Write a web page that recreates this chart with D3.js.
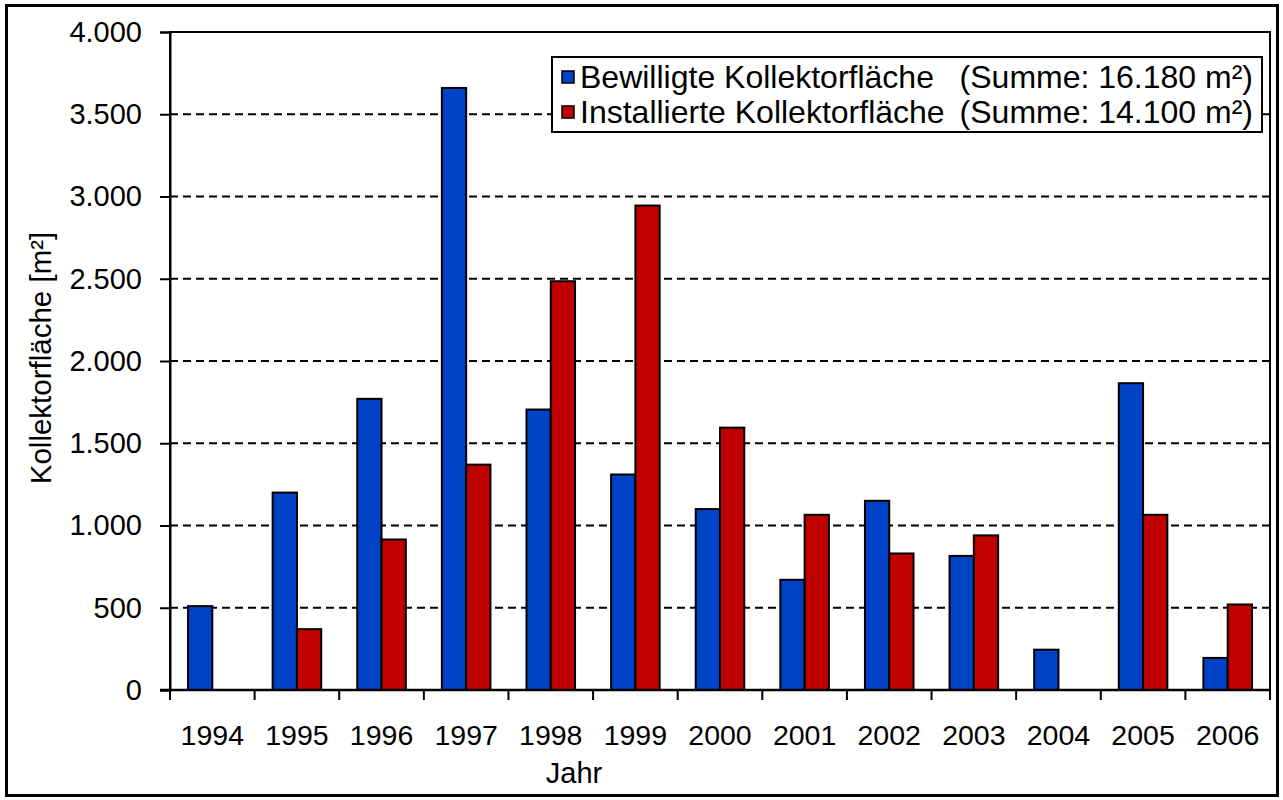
<!DOCTYPE html>
<html>
<head>
<meta charset="utf-8">
<script src="https://cdn.jsdelivr.net/npm/d3@7"></script>
<style>
  html, body { margin: 0; padding: 0; background: #fff; }
  svg { display: block; }
</style>
</head>
<body>
<div id="chart"></div>
<script>
// Daten
const years = ['1994','1995','1996','1997','1998','1999','2000','2001','2002','2003','2004','2005','2006'];
const bewilligt = [510, 1200, 1770, 3660, 1705, 1310, 1100, 670, 1150, 815, 245, 1865, 195];
const installiert = [0, 370, 915, 1370, 2485, 2945, 1595, 1065, 830, 940, 0, 1065, 520];
const seriesNames = ['Bewilligte Kollektorfläche', 'Installierte Kollektorfläche'];
const seriesSums = ['(Summe: 16.180 m²)', '(Summe: 14.100 m²)'];
const yTicks = [0, 500, 1000, 1500, 2000, 2500, 3000, 3500, 4000];

const W = 1283, H = 800;
const M = { left: 170, right: 1270, top: 32, bottom: 690 };
const COL = { blue: '#0042c6', red: '#c00000', ink: '#000' };
const FONT = '"Liberation Sans", Arial, sans-serif';

const de = d3.formatLocale({ decimal: ',', thousands: '.', grouping: [3], currency: ['', '€'] });
const fmt = de.format(',');

const svg = d3.select('#chart').append('svg')
  .attr('width', W).attr('height', H)
  .attr('viewBox', `0 0 ${W} ${H}`);

// Rahmen um das ganze Diagramm
svg.append('rect')
  .attr('x', 6.5).attr('y', 5.5)
  .attr('width', 1271).attr('height', 790)
  .attr('fill', '#fff').attr('stroke', COL.ink).attr('stroke-width', 3);

const x0 = d3.scaleBand().domain(years).range([M.left, M.right])
  .paddingInner(0.426).paddingOuter(0.213);
const x1 = d3.scaleBand().domain([0, 1]).range([0, x0.bandwidth()]);
const y = d3.scaleLinear().domain([0, 4000]).range([M.bottom, M.top]);

// Gitterlinien gestrichelt
svg.append('g').selectAll('line')
  .data(yTicks.filter(v => v > 0 && v < 4000))
  .join('line')
  .attr('x1', M.left).attr('x2', M.right)
  .attr('y1', d => y(d)).attr('y2', d => y(d))
  .attr('stroke', COL.ink).attr('stroke-width', 2)
  .attr('stroke-dasharray', '8,5');

// Balken
const rows = years.map((yr, i) => ({ yr, vals: [bewilligt[i], installiert[i]] }));
const grp = svg.append('g').selectAll('g').data(rows).join('g')
  .attr('transform', d => `translate(${x0(d.yr)},0)`);
grp.selectAll('rect')
  .data(d => d.vals.map((v, k) => ({ v, k })).filter(e => e.v > 0))
  .join('rect')
  .attr('x', d => x1(d.k))
  .attr('width', x1.bandwidth())
  .attr('y', d => y(d.v))
  .attr('height', d => y(0) - y(d.v))
  .attr('fill', d => d.k === 0 ? COL.blue : COL.red)
  .attr('stroke', COL.ink).attr('stroke-width', 2);

// Plotrahmen
svg.append('rect')
  .attr('x', M.left).attr('y', M.top)
  .attr('width', M.right - M.left).attr('height', M.bottom - M.top)
  .attr('fill', 'none').attr('stroke', COL.ink).attr('stroke-width', 2);

// Y-Achse
const yAxis = svg.append('g')
  .attr('transform', `translate(${M.left},0)`)
  .call(d3.axisLeft(y).tickValues(yTicks).tickFormat(fmt).tickSize(10).tickPadding(18));
yAxis.select('.domain').attr('stroke', COL.ink).attr('stroke-width', 2);
yAxis.selectAll('.tick line').attr('stroke', COL.ink).attr('stroke-width', 2);
yAxis.selectAll('.tick text')
  .attr('font-family', FONT).attr('font-size', 29).attr('fill', COL.ink);

// X-Achse: Striche an den Kategoriegrenzen
const step = x0.step();
const bounds = d3.range(years.length + 1).map(i => M.left + i * step);
svg.append('g').selectAll('line').data(bounds).join('line')
  .attr('x1', d => d).attr('x2', d => d)
  .attr('y1', M.bottom).attr('y2', M.bottom + 10)
  .attr('stroke', COL.ink).attr('stroke-width', 2);
svg.append('line')
  .attr('x1', M.left - 10).attr('x2', M.right)
  .attr('y1', M.bottom).attr('y2', M.bottom)
  .attr('stroke', COL.ink).attr('stroke-width', 2.5);

svg.append('g').selectAll('text').data(years).join('text')
  .attr('x', d => x0(d) + x0.bandwidth() / 2)
  .attr('y', 745)
  .attr('text-anchor', 'middle')
  .attr('font-family', FONT).attr('font-size', 28.5).attr('fill', COL.ink)
  .text(d => d);

// Achsentitel
svg.append('text')
  .attr('x', 574).attr('y', 783)
  .attr('text-anchor', 'middle')
  .attr('font-family', FONT).attr('font-size', 29).attr('fill', COL.ink)
  .text('Jahr');
svg.append('text')
  .attr('transform', 'translate(51,358) rotate(-90)')
  .attr('text-anchor', 'middle')
  .attr('font-family', FONT).attr('font-size', 29.5).attr('fill', COL.ink)
  .text('Kollektorfläche [m²]');

// Legende
const leg = svg.append('g');
leg.append('rect')
  .attr('x', 552).attr('y', 57).attr('width', 710).attr('height', 75)
  .attr('fill', '#fff').attr('stroke', COL.ink).attr('stroke-width', 2);
const legRows = leg.selectAll('g').data(seriesNames).join('g')
  .attr('transform', (d, i) => `translate(0,${77 + i * 35})`);
legRows.append('rect')
  .attr('x', 562).attr('y', -6).attr('width', 12).attr('height', 12)
  .attr('fill', (d, i) => i === 0 ? COL.blue : COL.red)
  .attr('stroke', COL.ink).attr('stroke-width', 1.5);
legRows.append('text')
  .attr('x', 580).attr('y', 11)
  .attr('font-family', FONT).attr('font-size', 32).attr('fill', COL.ink)
  .text(d => d);
legRows.append('text')
  .attr('x', 1253).attr('y', 11)
  .attr('text-anchor', 'end')
  .attr('font-family', FONT).attr('font-size', 32).attr('fill', COL.ink)
  .text((d, i) => seriesSums[i]);
</script>
</body>
</html>
